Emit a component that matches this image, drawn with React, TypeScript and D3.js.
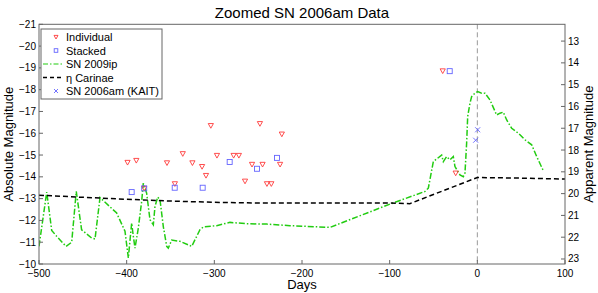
import React from "react";
import * as d3 from "d3";

// ---------- data ----------
const individualDays = [-399, -389, -380, -354, -345, -336, -325, -314, -309.5, -304, -297, -278, -272, -265, -257, -248, -245, -240, -235, -225, -223, -39.5, -24.7];
const individualMags = [-14.66, -14.75, -13.47, -14.64, -13.68, -15.06, -14.64, -14.47, -14.06, -16.35, -14.98, -14.98, -14.98, -13.8, -14.57, -16.44, -14.57, -13.68, -13.68, -14.57, -15.96, -18.86, -14.17];

const stackedDays = [-394.3, -380, -345.2, -313.3, -282.5, -251.3, -228.5, -31.5];
const stackedMags = [-13.3, -13.47, -13.5, -13.5, -14.68, -14.37, -14.87, -18.85];

const kaitDays = [0.4, -1.9];
const kaitApparent = [17.07, 17.55];

const sn2009ipDays = [-500, -491.2, -485.5, -479.8, -469.2, -462.7, -457.5, -451.4, -439.9, -436.1, -430.4, -411.4, -401.9, -398.1, -394.3, -392.4, -390.5, -386.7, -382.9, -381, -377.2, -373.4, -369.6, -367.7, -364.6, -362, -358.2, -354.3, -352.5, -348.6, -339.2, -325.8, -316.4, -312.6, -297.4, -282.2, -263.2, -240.3, -213.7, -168.1, -99.6, -59.7, -55.9, -50.2, -40.7, -38.8, -35, -31.2, -27.4, -25.5, -19.8, -16, -14.1, -12.2, -11, -8.4, -6.5, -2.7, 0.4, 4.9, 8.7, 14.4, 22, 25.8, 29.6, 33.5, 39.2, 46.8, 54.4, 62, 67.7, 75.3];
const sn2009ipMags = [-10.81, -13.3, -11.54, -11.27, -10.81, -11.0, -13.33, -11.57, -11.19, -11.15, -13.05, -12.34, -11.5, -10.28, -11.88, -11.27, -10.73, -11.65, -12.87, -13.71, -13.25, -12.03, -11.8, -12.64, -13.07, -12.95, -11.72, -10.81, -10.73, -11.1, -11.04, -10.81, -11.57, -11.7, -11.76, -11.91, -11.85, -11.83, -11.76, -11.68, -12.75, -13.33, -13.48, -14.7, -15.0, -14.7, -14.93, -14.78, -14.93, -14.47, -14.09, -14.01, -14.17, -15.55, -16.77, -17.38, -17.68, -17.84, -17.91, -17.84, -17.84, -17.53, -16.84, -16.92, -16.97, -16.61, -16.23, -16.0, -15.7, -15.47, -14.93, -14.28];

const etaCarDays = [-500, -450, -400, -350, -300, -250, -200, -150, -100, -77, 0, 50, 100];
const etaCarMags = [-13.16, -13.06, -12.97, -12.89, -12.83, -12.8, -12.8, -12.8, -12.8, -12.77, -13.97, -13.94, -13.9];

const distanceModulus = 33.23;

const xTicks = [-500, -400, -300, -200, -100, 0, 100];
const yLeftTicks = [-21, -20, -19, -18, -17, -16, -15, -14, -13, -12, -11, -10];
const yRightTicks = [13, 14, 15, 16, 17, 18, 19, 20, 21, 22, 23];

const legendLabels = ["Individual", "Stacked", "SN 2009ip", "\u03b7 Carinae", "SN 2006am (KAIT)"];

// ---------- layout ----------
const W = 598, H = 293;
const L = 39, R = 565, T = 24.3, B = 264;
const FONT = "Liberation Sans, Arial, Helvetica, sans-serif";
const RED = "#ff3a3a";
const BLUE = "#6464ff";
const GREEN = "#22cc11";
const AXIS = "#666";

const fmt = (v: number) => (v < 0 ? "\u2212" + Math.abs(v) : String(v));

function Tri({ x, y, s = 2.6 }: { x: number; y: number; s?: number }) {
  const p = `${x - s},${y - s * 0.8} ${x + s},${y - s * 0.8} ${x},${y + s}`;
  return <polygon points={p} fill="none" stroke={RED} strokeWidth={0.9} />;
}
function Sq({ x, y, s = 2.5 }: { x: number; y: number; s?: number }) {
  return <rect x={x - s} y={y - s} width={2 * s} height={2 * s} fill="none" stroke={BLUE} strokeWidth={0.9} />;
}
function Cross({ x, y, s = 2.5 }: { x: number; y: number; s?: number }) {
  return (
    <g stroke={BLUE} strokeWidth={0.9}>
      <line x1={x - s} y1={y - s} x2={x + s} y2={y + s} />
      <line x1={x - s} y1={y + s} x2={x + s} y2={y - s} />
    </g>
  );
}

export default function App() {
  const x = d3.scaleLinear().domain([-500, 100]).range([L, R]);
  const yL = d3.scaleLinear().domain([-21, -10]).range([T, B]);
  const yR = d3.scaleLinear().domain([-21 + distanceModulus, -10 + distanceModulus]).range([T, B]);

  const line = d3.line<[number, number]>().x((d) => x(d[0])).y((d) => yL(d[1]));
  const ipPath = line(sn2009ipDays.map((d, i) => [d, sn2009ipMags[i]]));
  const etaPath = line(etaCarDays.map((d, i) => [d, etaCarMags[i]]));

  const legY = [37, 50.5, 64, 77.5, 91];
  const tick = 4;

  return (
    <svg width={W} height={H} style={{ position: "absolute", left: 0, top: 0, background: "#fff" }} fontFamily={FONT}>
      <rect x={0} y={0} width={W} height={H} fill="#fff" />
      <defs>
        <clipPath id="plot">
          <rect x={L} y={T} width={R - L} height={B - T} />
        </clipPath>
      </defs>
      {/* title */}
      <text x={(L + R) / 2} y={18} textAnchor="middle" fontSize={15} fill="#000">Zoomed SN 2006am Data</text>

      {/* vertical zero line */}
      <line x1={x(0)} x2={x(0)} y1={T} y2={B} stroke="#999" strokeWidth={1} strokeDasharray="5,3" />

      <g clipPath="url(#plot)">
        <path d={ipPath || ""} fill="none" stroke={GREEN} strokeWidth={1.5} strokeDasharray="6,2,1.5,2" />
        <path d={etaPath || ""} fill="none" stroke="#000" strokeWidth={1.5} strokeDasharray="5,3" />
        {individualDays.map((d, i) => <Tri key={"t" + i} x={x(d)} y={yL(individualMags[i])} />)}
        {stackedDays.map((d, i) => <Sq key={"s" + i} x={x(d)} y={yL(stackedMags[i])} />)}
        {kaitDays.map((d, i) => <Cross key={"k" + i} x={x(d)} y={yR(kaitApparent[i])} />)}
      </g>

      {/* frame */}
      <rect x={L} y={T} width={R - L} height={B - T} fill="none" stroke={AXIS} strokeWidth={1} />

      {/* x ticks */}
      {xTicks.map((t) => (
        <g key={"x" + t}>
          <line x1={x(t)} x2={x(t)} y1={B} y2={B - tick} stroke={AXIS} />
          <text x={x(t)} y={276.5} textAnchor="middle" fontSize={10} fill="#000">{fmt(t)}</text>
        </g>
      ))}
      {/* left ticks */}
      {yLeftTicks.map((t) => (
        <g key={"yl" + t}>
          <line x1={L} x2={L + tick} y1={yL(t)} y2={yL(t)} stroke={AXIS} />
          <text x={36} y={yL(t) + 3.5} textAnchor="end" fontSize={10} fill="#000">{fmt(t)}</text>
        </g>
      ))}
      {/* right ticks */}
      {yRightTicks.map((t) => (
        <g key={"yr" + t}>
          <line x1={R} x2={R - tick} y1={yR(t)} y2={yR(t)} stroke={AXIS} />
          <text x={568} y={yR(t) + 3.5} textAnchor="start" fontSize={10} fill="#000">{fmt(t)}</text>
        </g>
      ))}

      {/* axis labels */}
      <text x={(L + R) / 2} y={289} textAnchor="middle" fontSize={13} fill="#000">Days</text>
      <text transform={`translate(13,${(T + B) / 2}) rotate(-90)`} textAnchor="middle" fontSize={13} fill="#000">Absolute Magnitude</text>
      <text transform={`translate(593,${(T + B) / 2}) rotate(-90)`} textAnchor="middle" fontSize={13} fill="#000">Apparent Magnitude</text>

      {/* legend */}
      <rect x={41} y={29} width={121} height={70} fill="#fff" stroke={AXIS} strokeWidth={1} />
      <Tri x={56} y={legY[0]} s={2} />
      <Sq x={56} y={legY[1]} s={1.8} />
      <line x1={43} x2={63} y1={legY[2]} y2={legY[2]} stroke={GREEN} strokeWidth={1.2} strokeDasharray="5,2,1.5,2" />
      <line x1={43} x2={63} y1={legY[3]} y2={legY[3]} stroke="#000" strokeWidth={1.3} strokeDasharray="4,3" />
      <Cross x={56} y={legY[4]} s={2} />
      {legendLabels.map((l, i) => (
        <text key={"lg" + i} x={66} y={legY[i] + 4} fontSize={11} fill="#000">{l}</text>
      ))}
    </svg>
  );
}
